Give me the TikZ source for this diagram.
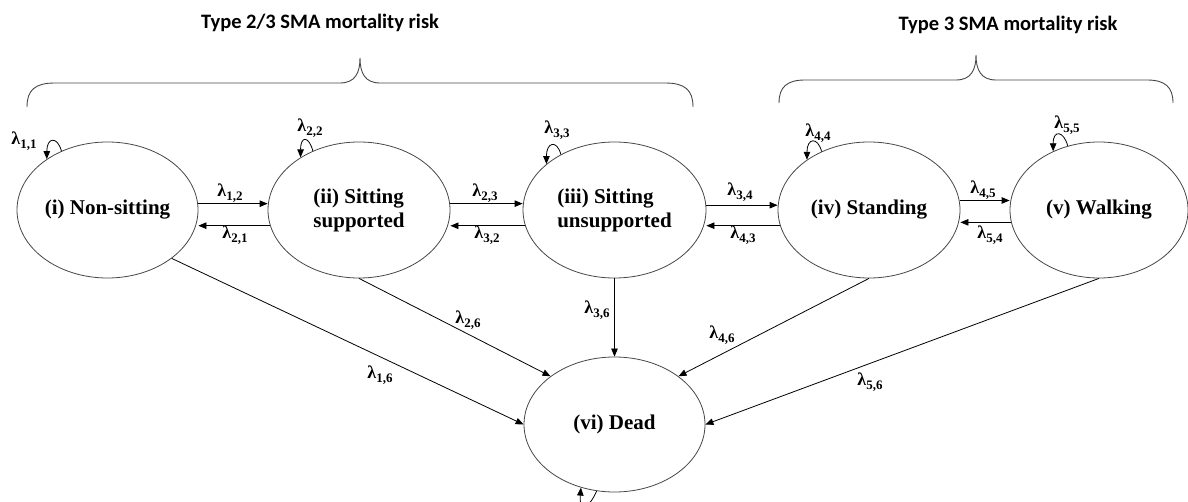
\documentclass[tikz,border=0pt]{standalone}
\usepackage{fontspec}
\setmainfont{Liberation Serif}
\newfontfamily\headfont{Carlito}
\usetikzlibrary{arrows.meta,shapes.geometric}
\definecolor{edgegray}{RGB}{70,70,70}
\newcommand{\rt}[1]{\textbf{\fontsize{18}{18}\selectfont λ\raisebox{-4pt}{\fontsize{13}{13}\selectfont #1}}}

\begin{document}
\begin{tikzpicture}[
    x=1pt, y=-1pt,
    state/.style={ellipse, draw=edgegray, line width=0.8pt, inner sep=0pt,
        minimum width=182pt, minimum height=136pt,
        font=\fontsize{21}{24}\selectfont\bfseries, align=left},
    rate/.style={inner sep=1pt},
    head/.style={font=\headfont\bfseries\fontsize{20.5}{24}\selectfont},
    brace/.style={draw=edgegray, line width=0.9pt},
    move/.style={->, line width=0.8pt},
    >={Triangle[length=8pt,width=6.5pt]}
]
\useasboundingbox (0,0) rectangle (1188,502);

% group headings
\node[head] (h23) at (320,23) {Type 2/3 SMA mortality risk};
\node[head] (h3) at (1008,25) {Type 3 SMA mortality risk};
\draw[brace] (27,107) .. controls (27,90) and (35,83) .. (55,83) -- (340,83)
    .. controls (355,83) and (360,73) .. (360,58)
    .. controls (360,73) and (365,83) .. (380,83) -- (665,83)
    .. controls (685,83) and (693,90) .. (693,107);
\draw[brace] (779,103) .. controls (779,87) and (787,80) .. (805,80) -- (956,80)
    .. controls (971,80) and (976,70) .. (976,55)
    .. controls (976,70) and (981,80) .. (996,80) -- (1147,80)
    .. controls (1165,80) and (1173,87) .. (1173,103);

% states
\node[state, minimum width=181pt] (nonsit) at (107.5,210) {(i) Non-sitting};
\node[state] (sitsup) at (359,210) {(ii) Sitting\\supported};
\node[state, minimum width=183pt] (situns) at (614.5,210) {(iii) Sitting\\unsupported};
\node[state] (stand) at (869,210) {(iv) Standing};
\node[state, minimum width=178pt] (walk) at (1099,210) {(v) Walking};
\node[state, minimum width=181pt, minimum height=135pt] (dead) at (614.5,424.5) {(vi) Dead};

% transitions between neighbours
\draw[move] (nonsit.4) -- (nonsit.4 -| sitsup.west);
\draw[move] (sitsup.190) -- (sitsup.190 -| nonsit.east);
\draw[move] (sitsup.4) -- (sitsup.4 -| situns.west);
\draw[move] (situns.190) -- (situns.190 -| sitsup.east);
\draw[move] (situns.3) -- (situns.3 -| stand.west);
\draw[move] (stand.190) -- (stand.190 -| situns.east);
\draw[move] (stand.6) -- (stand.6 -| walk.west);
\draw[move] (walk.188) -- (walk.188 -| stand.east);

\node[rate] (r12) at (230,193) {\rt{1,2}};
\node[rate] (r21) at (235,235) {\rt{2,1}};
\node[rate] (r23) at (485,193) {\rt{2,3}};
\node[rate] (r32) at (487,235) {\rt{3,2}};
\node[rate] (r34) at (740,192) {\rt{3,4}};
\node[rate] (r43) at (743,235) {\rt{4,3}};
\node[rate] (r45) at (983,190) {\rt{4,5}};
\node[rate] (r54) at (990,235) {\rt{5,4}};

% transitions to death
\draw[move] (nonsit.-37) -- (dead.west);
\draw[move] (sitsup.south) -- (dead.143);
\draw[move] (situns.south) -- (dead.north);
\draw[move] (stand.south) -- (dead.37);
\draw[move] (walk.south) -- (dead.east);

\node[rate] (r16) at (380,375) {\rt{1,6}};
\node[rate] (r26) at (468,320) {\rt{2,6}};
\node[rate] (r36) at (597,310) {\rt{3,6}};
\node[rate] (r46) at (722,335) {\rt{4,6}};
\node[rate] (r56) at (870,382) {\rt{5,6}};

% staying in the same state
\foreach \s/\a/\b in {nonsit/128/140, sitsup/128/138, situns/134/146, stand/129/141, walk/116/128}
    \draw[move] (\s.\a) .. controls +(-4,-15) and +(0,-22) .. (\s.\b);
\draw[move] (dead.255) .. controls +(-8,18) and +(-2,25) .. (dead.242);

\node[rate] (r11) at (24,141) {\rt{1,1}};
\node[rate] (r22) at (310,128) {\rt{2,2}};
\node[rate] (r33) at (557,130) {\rt{3,3}};
\node[rate] (r44) at (818,133) {\rt{4,4}};
\node[rate] (r55) at (1067,125) {\rt{5,5}};
\end{tikzpicture}
\end{document}
